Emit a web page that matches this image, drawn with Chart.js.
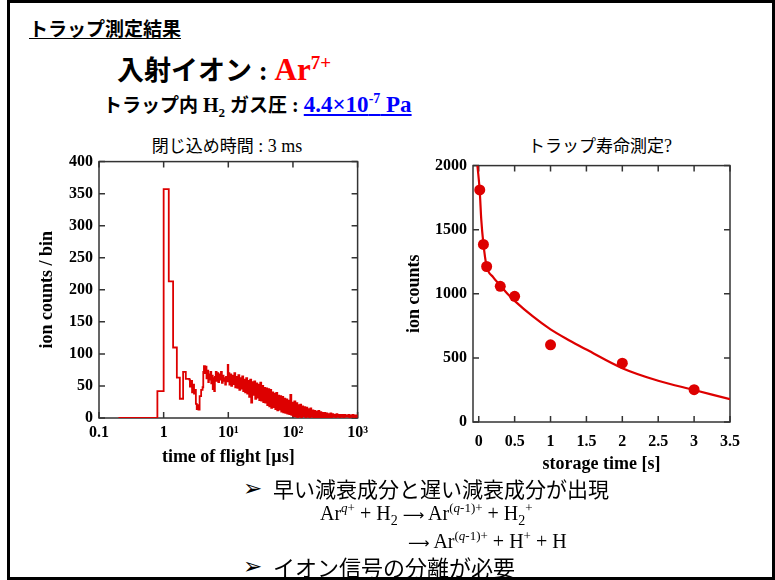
<!DOCTYPE html>
<html lang="ja">
<head>
<meta charset="utf-8">
<title>トラップ測定結果</title>
<script src="https://cdn.jsdelivr.net/npm/chart.js@4.4.1/dist/chart.umd.min.js"></script>
<style>
  html, body { margin: 0; padding: 0; background: #fff; }
  body { width: 775px; height: 580px; position: relative; overflow: hidden; }
  .slide { position: absolute; left: 7px; top: 0; width: 768px; height: 580px; box-sizing: border-box;
           border: 3px solid #000; pointer-events: none; z-index: 5; }
  .t { position: absolute; white-space: nowrap; color: #000; }
  .jp { font-family: "Noto Sans CJK JP", "Noto Sans", sans-serif; }
  .serif { font-family: "Liberation Serif", "DejaVu Serif", serif; }
  .b { font-weight: bold; }
  sup, sub { line-height: 0; }
  .arrow { font-family: "DejaVu Sans", sans-serif; color: #000; }
  .to { font-family: "DejaVu Sans", sans-serif; font-size: 15px; }
  .box { position: absolute; }
</style>
</head>
<body>
<div class="slide"></div>

<div class="t jp b" style="left:29px;top:16px;font-size:19px;line-height:23px;text-decoration:underline;text-underline-offset:2px;">トラップ測定結果</div>

<div class="t" style="left:117px;top:52px;line-height:34px;">
  <span class="jp b" style="font-size:27px;">入射イオン</span><span class="serif b" style="font-size:27px;"> : </span><span class="serif b" style="font-size:31px;color:#ff0000;">Ar<sup style="font-size:19px;">7+</sup></span>
</div>

<div class="t" style="left:103px;top:92px;line-height:24px;">
  <span class="jp b" style="font-size:19px;">トラップ内</span><span class="serif b" style="font-size:20px;"> H<sub style="font-size:13px;">2</sub> </span><span class="jp b" style="font-size:19px;">ガス圧</span><span class="serif b" style="font-size:20px;"> : </span><span class="serif b" style="font-size:23px;color:#0000ff;text-decoration:underline;">4.4×10<sup style="font-size:14px;">-7</sup> Pa</span>
</div>

<div class="t" style="left:227px;top:135px;line-height:20px;transform:translateX(-50%);">
  <span class="jp" style="font-size:17px;">閉じ込め時間</span><span class="serif" style="font-size:18px;"> : 3 ms</span>
</div>
<div class="t" style="left:600px;top:135px;line-height:20px;transform:translateX(-50%);">
  <span class="jp" style="font-size:17px;">トラップ寿命測定</span><span class="serif" style="font-size:18px;">?</span>
</div>

<div class="box" style="left:33px;top:146px;width:340px;height:324px;">
  <canvas id="tofChart" width="340" height="324" style="width:340px;height:324px;"></canvas>
</div>
<div class="box" style="left:400px;top:150px;width:350px;height:327px;">
  <canvas id="lifeChart" width="350" height="327" style="width:350px;height:327px;"></canvas>
</div>

<div class="t arrow" style="left:243px;top:474px;font-size:23px;line-height:28px;">➢</div>
<div class="t jp" style="left:273px;top:475px;font-size:21px;line-height:26px;">早い減衰成分と遅い減衰成分が出現</div>
<div class="t serif" style="left:320px;top:502px;font-size:20px;line-height:22px;">Ar<sup style="font-size:13px;"><i>q</i>+</sup> + H<sub style="font-size:14px;">2</sub> <span class="to">⟶</span> Ar<sup style="font-size:13px;">(<i>q</i>-1)+</sup> + H<sub style="font-size:14px;">2</sub><sup style="font-size:13px;">+</sup></div>
<div class="t serif" style="left:408px;top:530px;font-size:20px;line-height:22px;"><span class="to">⟶</span> Ar<sup style="font-size:13px;">(<i>q</i>-1)+</sup> + H<sup style="font-size:13px;">+</sup> + H</div>
<div class="t arrow" style="left:243px;top:552px;font-size:23px;line-height:28px;">➢</div>
<div class="t jp" style="left:273px;top:553px;font-size:22px;line-height:27px;">イオン信号の分離が必要</div>

<script>
// time-of-flight histogram, 3 ms storage (left edges of bins, µs)
const tofUs = [
  0.2, 0.8, 1.0, 1.2, 1.4, 1.6, 1.78, 2.0, 2.2, 2.5,
  2.55, 2.65, 2.75, 2.85, 2.95, 3.05, 3.15, 3.25, 3.35, 3.45,
  3.6, 3.8, 4.0, 4.1, 4.2, 4.35, 4.5, 4.6, 4.75, 4.9,
  5.0, 5.15, 5.3, 5.45, 5.6, 5.75, 5.9, 6.05, 6.2, 6.4,
  6.6, 6.8, 7.0, 7.2, 7.45, 7.7, 7.95, 8.2, 8.45, 8.7,
  8.95, 9.2, 9.5, 9.8,
  10.0, 10.4, 10.7, 11.1, 11.5, 11.9, 12.4, 12.8, 13.3, 13.8,
  14.3, 14.8, 15.3, 15.9, 16.4, 17.0, 17.6, 18.2, 18.9, 19.6,
  20.3, 21.0, 21.8, 22.6, 23.4, 24.3, 25.2, 26.1, 27.0, 28.0,
  29.0, 30.1, 31.2, 32.3, 33.5, 34.7, 36.0, 37.3, 38.6, 40.0,
  41.5, 43.0, 44.5, 46.1, 47.8, 49.5, 51.4, 53.3, 55.2, 57.2,
  59.3, 61.4, 63.6, 65.9, 68.3, 70.8, 73.4, 76.1, 78.8, 81.7,
  84.7, 87.8, 91.0, 94.3, 97.7, 101, 105, 109, 113, 117,
  121, 125, 130, 134, 139, 144, 150, 155, 161, 167,
  173, 179, 186, 192, 199, 207, 214, 222, 230, 238,
  247, 256, 265, 275, 285, 295, 306, 317, 329, 341,
  353, 366, 379, 393, 407, 422, 437, 453, 470, 487,
  505, 523, 542, 562, 582, 603, 625, 648, 671, 696,
  721, 747, 775, 803, 832, 863, 894, 927, 960, 985,
  1000
];
const countsPerBin = [
  0, 42, 357, 213, 110, 63, 30, 72, 61, 60,
  49, 58, 40, 52, 38, 44, 22, 14, 20, 13,
  34, 44, 48, 72, 81, 70, 80, 62, 74, 56,
  68, 60, 72, 54, 66, 45, 62, 42, 64, 72,
  58, 70, 56, 68, 60, 72, 55, 66, 58, 62,
  52, 64, 57, 83,
  70, 52, 68, 50, 66, 53, 70, 48, 64, 47,
  67, 44, 62, 46, 65, 42, 60, 40, 62, 38,
  58, 33, 60, 24, 56, 36, 57, 30, 54, 32,
  52, 28, 55, 27, 50, 25, 47, 24, 46, 20,
  45, 18, 44, 16, 40, 17, 38, 14, 39, 12,
  35, 13, 34, 10, 33, 9, 30, 8, 29, 7,
  27, 6, 36, 5, 24, 3, 26, 2, 23, 1,
  20, 2, 21, 1, 18, 3, 17, 1, 16, 2,
  14, 0, 15, 2, 12, 0, 11, 1, 10, 0,
  11, 1, 9, 0, 8, 1, 8, 0, 7, 1,
  6, 0, 7, 1, 6, 2, 5, 1, 6, 2,
  5, 1, 5, 2, 5, 1, 5, 2, 4, 2,
  5, 1, 4, 2, 5, 1, 4, 2, 4, 1,
  1
];
const tofTickValues = [0.1, 1, 10, 100, 1000];
const tofTickLabels = ['0.1', '1', '10¹', '10²', '10³'];

// trap lifetime
const storageTimeS = [0.014, 0.065, 0.11, 0.3, 0.5, 1, 2, 3];
const ionCounts    = [1810, 1385, 1213, 1058, 980, 602, 459, 252];
const fitTimeS  = [-0.018, 0.014, 0.035, 0.065, 0.11, 0.2, 0.3, 0.4, 0.5, 0.75, 1.0, 1.25, 1.5, 2.0, 2.5, 3.0, 3.5];
const fitCounts = [2000, 1800, 1580, 1390, 1215, 1130, 1065, 1000, 945, 825, 722, 640, 565, 420, 322, 250, 178];
const storageTicks = [0, 0.5, 1, 1.5, 2, 2.5, 3, 3.5];
const storageTickLabels = ['0', '0.5', '1', '1.5', '2', '2.5', '3', '3.5'];

const RED = '#dd0000';
const SERIF = '"Liberation Serif", "DejaVu Serif", serif';

Chart.defaults.font.family = SERIF;
Chart.defaults.color = '#000';

// box around the plot with ticks pointing inwards on all four sides
const frameTicks = {
  id: 'frameTicks',
  beforeDatasetsDraw(chart) {
    const {ctx, chartArea: a, scales} = chart;
    const len = 6;
    ctx.save();
    ctx.strokeStyle = '#333';
    ctx.lineWidth = 1.5;
    ctx.strokeRect(a.left, a.top, a.right - a.left, a.bottom - a.top);
    ctx.beginPath();
    scales.x.ticks.forEach(t => {
      const px = scales.x.getPixelForValue(t.value);
      ctx.moveTo(px, a.bottom); ctx.lineTo(px, a.bottom - len);
      ctx.moveTo(px, a.top); ctx.lineTo(px, a.top + len);
    });
    scales.y.ticks.forEach(t => {
      const py = scales.y.getPixelForValue(t.value);
      ctx.moveTo(a.left, py); ctx.lineTo(a.left + len, py);
      ctx.moveTo(a.right, py); ctx.lineTo(a.right - len, py);
    });
    ctx.stroke();
    ctx.restore();
  }
};

const tickFont = {size: 16, weight: 'bold'};
const titleFont = {size: 18, weight: 'bold'};

new Chart(document.getElementById('tofChart'), {
  type: 'scatter',
  data: {
    datasets: [{
      data: tofUs.map((t, i) => ({x: t, y: countsPerBin[i]})),
      showLine: true,
      stepped: true,
      borderColor: RED,
      borderWidth: 1.8,
      pointRadius: 0
    }]
  },
  options: {
    responsive: false,
    animation: false,
    layout: {padding: {top: 0, right: 10, left: 0, bottom: 0}},
    plugins: {legend: {display: false}, tooltip: {enabled: false}},
    scales: {
      x: {
        type: 'logarithmic', min: 0.1, max: 1000,
        afterBuildTicks: s => { s.ticks = tofTickValues.map(v => ({value: v})); },
        afterFit: s => { s.height = 52; },
        grid: {display: false, drawTicks: false},
        border: {display: false},
        ticks: {padding: 5, autoSkip: false, maxRotation: 0, font: tickFont,
                callback: (v, i) => tofTickLabels[i]},
        title: {display: true, text: 'time of flight [µs]', font: titleFont, padding: {top: 0, bottom: 2}}
      },
      y: {
        min: 0, max: 400,
        afterFit: s => { s.width = 66; },
        grid: {display: false, drawTicks: false},
        border: {display: false},
        ticks: {stepSize: 50, padding: 6, font: tickFont, callback: v => String(v)},
        title: {display: true, text: 'ion counts / bin', font: titleFont, padding: {top: 4, bottom: 0}}
      }
    }
  },
  plugins: [frameTicks]
});

new Chart(document.getElementById('lifeChart'), {
  type: 'scatter',
  data: {
    datasets: [{
      data: fitTimeS.map((t, i) => ({x: t, y: fitCounts[i]})),
      showLine: true,
      cubicInterpolationMode: 'monotone',
      borderColor: RED,
      borderWidth: 2.2,
      pointRadius: 0
    }, {
      data: storageTimeS.map((t, i) => ({x: t, y: ionCounts[i]})),
      showLine: false,
      backgroundColor: RED,
      borderWidth: 0,
      pointRadius: 5.5
    }]
  },
  options: {
    responsive: false,
    animation: false,
    layout: {padding: {top: 0, right: 10, left: 0, bottom: 0}},
    plugins: {legend: {display: false}, tooltip: {enabled: false}},
    scales: {
      x: {
        type: 'linear', min: -0.08, max: 3.5,
        afterBuildTicks: s => { s.ticks = storageTicks.map(v => ({value: v})); },
        afterFit: s => { s.height = 55; },
        grid: {display: false, drawTicks: false},
        border: {display: false},
        ticks: {padding: 10, autoSkip: false, maxRotation: 0, font: tickFont,
                callback: (v, i) => storageTickLabels[i]},
        title: {display: true, text: 'storage time [s]', font: titleFont, padding: {top: 0, bottom: 2}}
      },
      y: {
        min: 0, max: 2000,
        afterFit: s => { s.width = 73; },
        grid: {display: false, drawTicks: false},
        border: {display: false},
        ticks: {stepSize: 500, padding: 6, font: tickFont, callback: v => String(v)},
        title: {display: true, text: 'ion counts', font: titleFont, padding: {top: 4, bottom: 0}}
      }
    }
  },
  plugins: [frameTicks]
});
</script>
</body>
</html>
